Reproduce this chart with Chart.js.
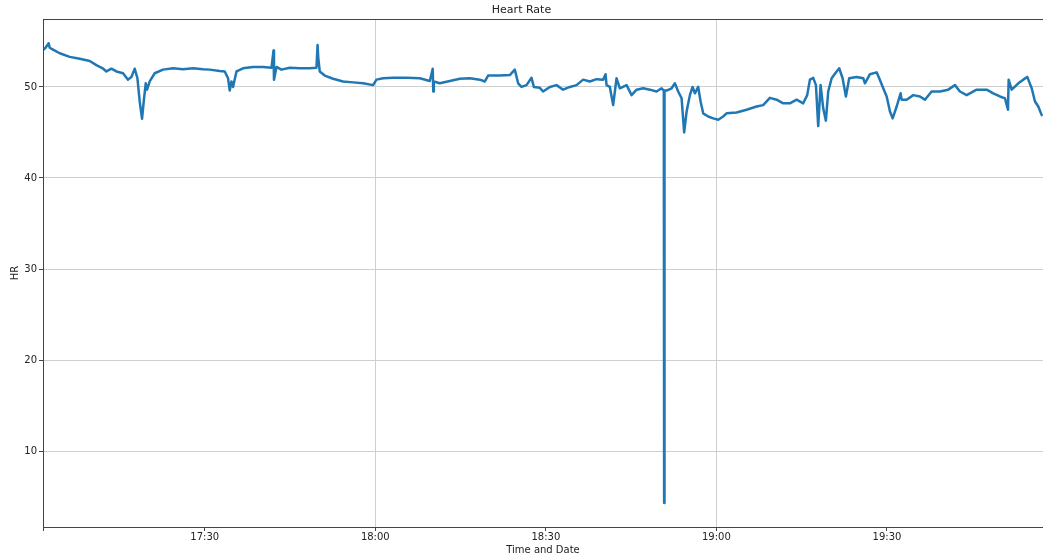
<!DOCTYPE html>
<html>
<head>
<meta charset="utf-8">
<script src="https://cdn.jsdelivr.net/npm/chart.js@4.4.1/dist/chart.umd.min.js"></script>
<style>
  html, body { margin: 0; padding: 0; background: #fff; }
  #wrap { width: 1043px; height: 557px; }
</style>
</head>
<body>
<div id="wrap"><canvas id="hr"></canvas></div>
<script>
// Heart-rate recording, minutes after 17:00 and beats per minute
const minutes = [
  1.55, 2.0, 2.55, 2.73, 3.31, 4.49, 6.25, 8.01, 9.77, 10.94,
  12.05, 12.70, 13.58, 14.46, 15.63, 16.50, 17.10, 17.68, 18.16, 18.56,
  18.97, 19.27, 19.62, 19.85, 20.32, 21.20, 22.66, 24.42, 26.18, 27.94,
  29.70, 30.88, 32.64, 33.52, 34.10, 34.40, 34.70, 34.98, 35.58, 36.74,
  38.50, 40.26, 41.74, 42.10, 42.18, 42.62, 43.50, 44.96, 46.72, 48.47,
  49.65, 49.85, 49.97, 50.23, 51.11, 52.57, 54.33, 56.09, 57.85, 59.61,
  60.21, 61.37, 63.13, 65.49, 67.83, 69.59, 70.10, 70.20, 70.30, 71.35,
  73.11, 74.87, 76.63, 78.39, 79.27, 79.85, 81.91, 83.66, 84.54, 85.13,
  85.72, 86.60, 87.48, 87.89, 88.94, 89.52, 90.70, 91.88, 93.04, 94.22,
  95.40, 96.56, 97.74, 98.92, 100.08, 100.50, 100.68, 101.26, 101.84, 102.44,
  103.02, 104.20, 105.08, 105.96, 107.12, 108.30, 109.48, 110.36, 110.75, 110.81,
  110.87, 111.24, 112.12, 112.70, 113.28, 113.88, 114.33, 114.76, 115.34, 115.81,
  116.22, 116.80, 117.22, 117.68, 118.56, 119.44, 120.32, 121.19, 121.79, 123.55,
  125.31, 127.07, 128.23, 129.41, 130.59, 131.75, 132.93, 134.11, 135.27, 135.97,
  136.45, 137.03, 137.51, 137.91, 138.33, 138.79, 139.26, 139.67, 140.27, 141.15,
  141.60, 142.20, 142.78, 143.36, 144.67, 145.83, 146.13, 147.01, 148.19, 148.64,
  149.35, 149.95, 150.53, 151.00, 151.71, 152.40, 152.58, 153.46, 154.63, 155.80,
  156.68, 157.86, 159.32, 160.78, 161.96, 162.84, 164.02, 165.78, 167.54, 168.70,
  169.88, 170.76, 171.29, 171.41, 171.94, 173.10, 173.98, 174.68, 175.46, 176.04,
  176.62, 177.22
];
const heartRate = [
  54.06, 54.3, 54.8, 54.3, 54.1, 53.7, 53.3, 53.1, 52.85, 52.4,
  52.05, 51.7, 52.0, 51.7, 51.5, 50.8, 51.1, 52.0, 50.95, 48.4,
  46.5, 48.4, 50.4, 49.7, 50.6, 51.5, 51.9, 52.05, 51.95, 52.05,
  51.95, 51.9, 51.75, 51.7, 50.95, 49.6, 50.6, 50.0, 51.7, 52.05,
  52.2, 52.2, 52.1, 54.0, 50.8, 52.2, 51.9, 52.1, 52.05, 52.05,
  52.1, 54.6, 53.2, 51.7, 51.25, 50.9, 50.6, 50.5, 50.4, 50.2,
  50.8, 50.95, 51.0, 51.0, 50.95, 50.65, 52.0, 49.5, 50.6, 50.4,
  50.65, 50.9, 50.95, 50.8, 50.6, 51.25, 51.25, 51.3, 51.9, 50.4,
  50.0, 50.2, 51.0, 50.0, 49.9, 49.5, 50.0, 50.2, 49.7, 50.0,
  50.2, 50.8, 50.6, 50.85, 50.8, 51.4, 50.2, 50.0, 48.0, 50.95,
  49.85, 50.2, 49.1, 49.7, 49.85, 49.7, 49.5, 49.85, 49.6, 4.3,
  49.6, 49.6, 49.85, 50.4, 49.5, 48.75, 45.0, 47.3, 49.1, 50.0,
  49.3, 50.0, 48.4, 47.1, 46.75, 46.55, 46.4, 46.75, 47.1, 47.2,
  47.5, 47.85, 48.0, 48.8, 48.6, 48.2, 48.2, 48.6, 48.2, 49.1,
  50.8, 51.0, 50.2, 45.7, 50.2, 47.65, 46.3, 49.5, 50.95, 51.7,
  52.05, 50.95, 48.95, 50.95, 51.1, 50.95, 50.4, 51.4, 51.6, 50.95,
  49.85, 48.95, 47.3, 46.55, 47.85, 49.3, 48.6, 48.6, 49.1, 48.95,
  48.6, 49.5, 49.5, 49.7, 50.2, 49.5, 49.1, 49.7, 49.7, 49.3,
  48.95, 48.75, 47.5, 50.8, 49.7, 50.4, 50.8, 51.1, 49.85, 48.4,
  47.85, 46.9
];
// Labelled time ticks (minutes after 17:00); the first axis tick is unlabelled
const tickMinutes = [30, 60, 90, 120, 150];
const tickLabels = ['17:30', '18:00', '18:30', '19:00', '19:30'];
const gridMinutes = [60, 120];
const hrTicks = [10, 20, 30, 40, 50];

const X_MIN = 1.55, X_MAX = 177.45;
const Y_MIN = 1.67, Y_MAX = 57.46;

const points = minutes.map((m, i) => ({ x: m, y: heartRate[i] }));

const frame = {
  id: 'frame',
  afterDraw(chart) {
    const a = chart.chartArea, ctx = chart.ctx;
    ctx.save();
    ctx.strokeStyle = '#444';
    ctx.lineWidth = 1;
    ctx.strokeRect(Math.round(a.left) + 0.5, Math.round(a.top) + 0.5,
                   Math.round(a.right - a.left), Math.round(a.bottom - a.top));
    ctx.restore();
  }
};

const font = { family: 'DejaVu Sans', size: 10 };

new Chart(document.getElementById('hr'), {
  type: 'line',
  data: {
    datasets: [{
      data: points,
      borderColor: '#1f77b4',
      borderWidth: 2.5,
      borderJoinStyle: 'round',
      borderCapStyle: 'round',
      pointRadius: 0,
      tension: 0,
      fill: false
    }]
  },
  options: {
    responsive: true,
    maintainAspectRatio: false,
    animation: false,
    layout: { padding: { left: 0, right: 0, top: 0, bottom: 0 } },
    plugins: {
      legend: { display: false },
      tooltip: { enabled: false },
      title: {
        display: true,
        text: 'Heart Rate',
        color: '#222',
        font: { family: 'DejaVu Sans', size: 11, weight: 'normal' },
        padding: { top: 4, bottom: 1.8 }
      }
    },
    scales: {
      x: {
        type: 'linear',
        min: X_MIN,
        max: X_MAX,
        afterFit(s) { s.height = 30; },
        afterBuildTicks(s) {
          s.ticks = [{ value: X_MIN }].concat(tickMinutes.map(v => ({ value: v })));
        },
        ticks: {
          autoSkip: false,
          maxRotation: 0,
          padding: 0,
          color: '#222',
          font: font,
          callback(v) {
            const i = tickMinutes.indexOf(v);
            return i >= 0 ? tickLabels[i] : '';
          }
        },
        grid: {
          color: c => (c.tick && gridMinutes.includes(c.tick.value)) ? '#cfcfcf' : 'rgba(0,0,0,0)',
          tickColor: '#444',
          tickLength: 4,
          lineWidth: 1
        },
        border: { display: false },
        title: {
          display: true,
          text: 'Time and Date',
          color: '#222',
          font: font,
          padding: { top: 0, bottom: 1 }
        }
      },
      y: {
        type: 'linear',
        min: Y_MIN,
        max: Y_MAX,
        afterFit(s) { s.width = 43; },
        afterBuildTicks(s) { s.ticks = hrTicks.map(v => ({ value: v })); },
        ticks: { padding: 2, color: '#222', font: font },
        grid: {
          color: '#cfcfcf',
          tickColor: '#444',
          tickLength: 4,
          lineWidth: 1
        },
        border: { display: false },
        title: {
          display: true,
          text: 'HR',
          color: '#222',
          font: font,
          padding: { top: 9, bottom: 0 }
        }
      }
    }
  },
  plugins: [frame]
});
</script>
</body>
</html>
